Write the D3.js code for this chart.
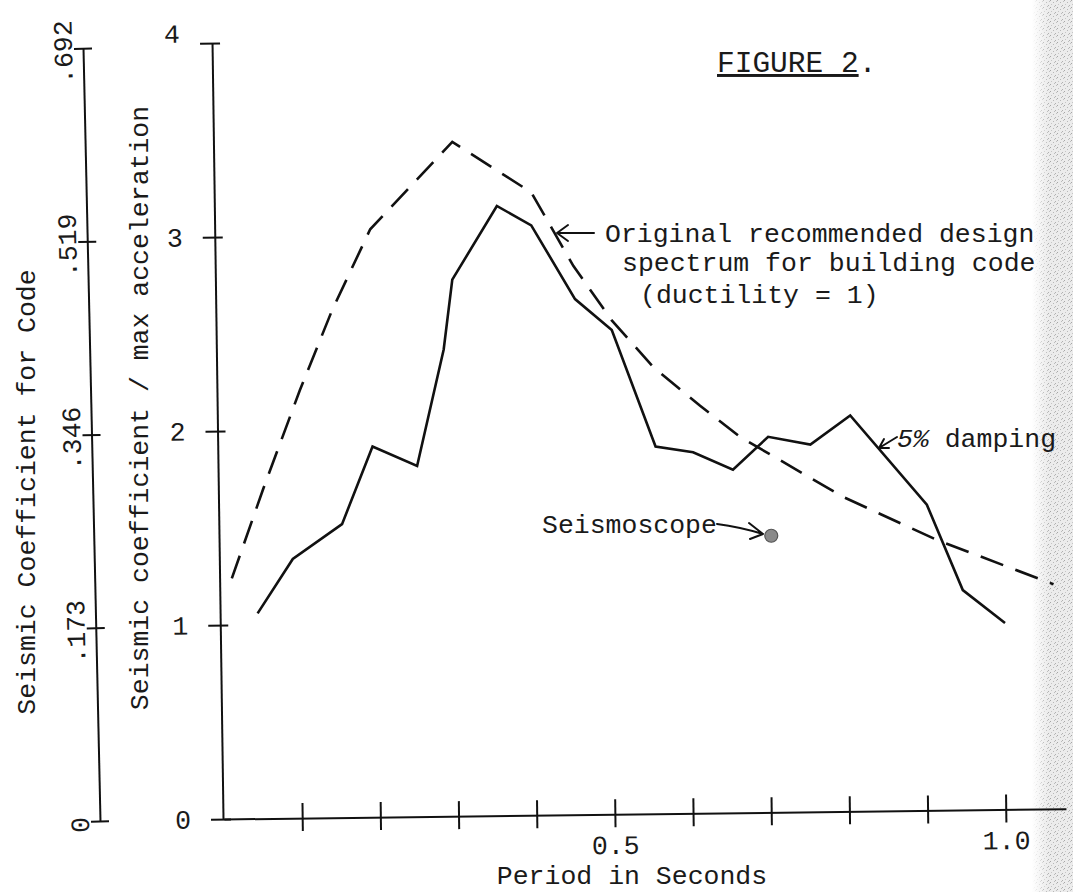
<!DOCTYPE html>
<html>
<head>
<meta charset="utf-8">
<script src="https://cdn.jsdelivr.net/npm/d3@7"></script>
<style>
  body { margin: 0; background: #fff; }
  svg { display: block; }
  text { font-family: "Liberation Mono", "DejaVu Sans Mono", monospace; fill: #1a1a1a; }
</style>
</head>
<body>
<svg id="chart" width="1073" height="892"></svg>
<script>
// 5% damping response spectrum (period in s, coefficient / max accel)
var dampPeriod = [0.043, 0.088, 0.151, 0.190, 0.247, 0.281, 0.292, 0.349, 0.393, 0.449,
                  0.496, 0.552, 0.600, 0.651, 0.696, 0.750, 0.801, 0.899, 0.945, 0.999];
var dampValue  = [1.06, 1.34, 1.52, 1.92, 1.82, 2.42, 2.78, 3.16, 3.06, 2.68,
                  2.52, 1.92, 1.89, 1.80, 1.97, 1.93, 2.08, 1.62, 1.18, 1.01];

// original recommended design spectrum (dashed)
var codePeriod = [0.010, 0.050, 0.097, 0.138, 0.187, 0.292, 0.393, 0.447, 0.496, 0.549,
                  0.609, 0.660, 0.792, 0.911, 1.061];
var codeValue  = [1.24, 1.70, 2.21, 2.62, 3.04, 3.49, 3.23, 2.85, 2.57, 2.33,
                  2.13, 1.97, 1.66, 1.44, 1.21];

// seismoscope reading
var scopePeriod = [0.70];
var scopeValue  = [1.46];

var xTicks  = [0.1, 0.2, 0.3, 0.4, 0.5, 0.6, 0.7, 0.8, 0.9, 1.0];
var xLabels = ["", "", "", "", "0.5", "", "", "", "", "1.0"];
var yTicks  = [0, 1, 2, 3, 4];
var yLabels = ["0", "1", "2", "3", "4"];
var codeTicks  = [0, 0.173, 0.346, 0.519, 0.692];
var codeLabels = ["0", ".173", ".346", ".519", ".692"];

var FS = "26.5px";

var svg = d3.select("#chart");

// grey scanner edge on the right
var defs = svg.append("defs");
var pat = defs.append("pattern").attr("id", "noise")
  .attr("width", 7).attr("height", 7).attr("patternUnits", "userSpaceOnUse");
pat.append("rect").attr("width", 7).attr("height", 7).attr("fill", "#ececec");
[[0,0,"#a6a6a6"],[3,2,"#b8b8b8"],[5,5,"#b0b0b0"],[1,4,"#c6c6c6"],[6,1,"#c0c0c0"],[4,6,"#bcbcbc"]].forEach(function(p){
  pat.append("rect").attr("x", p[0]).attr("y", p[1]).attr("width", 1).attr("height", 1).attr("fill", p[2]);
});
var grad = defs.append("linearGradient").attr("id", "fade")
  .attr("gradientUnits", "userSpaceOnUse").attr("x1", 1032).attr("x2", 1048).attr("y1", 0).attr("y2", 0);
grad.append("stop").attr("offset", 0).attr("stop-color", "#000");
grad.append("stop").attr("offset", 1).attr("stop-color", "#fff");
var mask = defs.append("mask").attr("id", "edge");
mask.append("rect").attr("x", 1028).attr("y", 0).attr("width", 50).attr("height", 892).attr("fill", "url(#fade)");
svg.append("rect").attr("x", 1028).attr("y", 0).attr("width", 50).attr("height", 892)
  .attr("fill", "url(#noise)").attr("mask", "url(#edge)");

var x = d3.scaleLinear().domain([0, 1.077]).range([224, 1066]);
var y = d3.scaleLinear().domain([0, 4]).range([819, 43]);
var yCode = d3.scaleLinear().domain([0, 0.692]).range([821, 48]);

function styleAxis(g) {
  g.selectAll("path, line").attr("stroke", "#111").attr("stroke-width", 2);
  g.selectAll("text").style("font-size", FS).attr("fill", "#1a1a1a");
}

// x axis (hand drawn, rises slightly to the right)
var gx = svg.append("g")
  .attr("transform", "rotate(-0.7,224,819) translate(0,819)")
  .call(d3.axisBottom(x).tickValues(xTicks).tickSizeInner(13).tickSizeOuter(0)
        .tickPadding(8).tickFormat(function(d, i){ return xLabels[i]; }));
gx.selectAll(".tick line").attr("y1", -15);
styleAxis(gx);

// main y axis
var gy = svg.append("g")
  .attr("transform", "rotate(-0.81,223,819) translate(223,0)")
  .call(d3.axisLeft(y).tickValues(yTicks).tickSizeInner(12).tickSizeOuter(0).tickPadding(20)
        .tickFormat(function(d, i){ return yLabels[i]; }));
gy.selectAll(".tick line").attr("x1", 8);
styleAxis(gy);
gy.selectAll(".tick text").filter(function(d){ return d === 4; }).attr("dy", "-0.05em");

// code coefficient axis
var gc = svg.append("g")
  .attr("transform", "rotate(-1.26,100,821) translate(100,0)")
  .call(d3.axisLeft(yCode).tickValues(codeTicks).tickSizeInner(9).tickSizeOuter(0)
        .tickFormat(function(d, i){ return codeLabels[i]; }));
gc.selectAll(".tick line").attr("x1", 9);
gc.selectAll(".tick text")
  .attr("x", 0).attr("dy", 0)
  .attr("text-anchor", "middle")
  .attr("transform", "translate(-11,3) rotate(-90)");
styleAxis(gc);

// axis titles
svg.append("text").attr("transform", "translate(35,492) rotate(-90)")
  .attr("text-anchor", "middle").style("font-size", FS)
  .text("Seismic Coefficient for Code");
svg.append("text").attr("transform", "translate(148,408) rotate(-90)")
  .attr("text-anchor", "middle").style("font-size", FS)
  .text("Seismic coefficient / max acceleration");
svg.append("text").attr("x", 632).attr("y", 884)
  .attr("text-anchor", "middle").style("font-size", FS)
  .text("Period in Seconds");

// data lines
var line = d3.line().x(function(d){ return x(d[0]); }).y(function(d){ return y(d[1]); });

svg.append("path")
  .datum(d3.zip(codePeriod, codeValue))
  .attr("d", line)
  .attr("fill", "none").attr("stroke", "#111").attr("stroke-width", 2.6)
  .attr("stroke-dasharray", "24 13");

svg.append("path")
  .datum(d3.zip(dampPeriod, dampValue))
  .attr("d", line)
  .attr("fill", "none").attr("stroke", "#111").attr("stroke-width", 2.6)
  .attr("stroke-linejoin", "miter");

svg.selectAll(".scope")
  .data(d3.zip(scopePeriod, scopeValue))
  .enter().append("circle")
  .attr("class", "scope")
  .attr("cx", function(d){ return x(d[0]); })
  .attr("cy", function(d){ return y(d[1]); })
  .attr("r", 6.5)
  .attr("fill", "#8a8a8a").attr("stroke", "#555").attr("stroke-width", 1.2);

// annotations
var ann = svg.append("g").style("font-size", FS);
ann.append("text").attr("x", 717).attr("y", 72).style("font-size", "29.5px")
  .call(function(t){
    t.append("tspan").attr("text-decoration", "underline").text("FIGURE 2");
    t.append("tspan").text(".");
  });

ann.append("text").attr("x", 605).attr("y", 242).text("Original recommended design");
ann.append("text").attr("x", 622).attr("y", 271).text("spectrum for building code");
ann.append("text").attr("x", 640).attr("y", 303).text("(ductility = 1)");
ann.append("text").attr("x", 542).attr("y", 533).text("Seismoscope");
ann.append("text").attr("x", 897).attr("y", 447)
  .call(function(t){
    t.append("tspan").style("font-style", "italic").text("5%");
    t.append("tspan").text(" damping");
  });

var arrows = [
  "M594,233 L557,233 M568,225 L557,233 L568,241",
  "M717,524 Q740,527 763,534 M749,523 L763,534 L750,539",
  "M897,437 L879,448 M884,439 L879,448 L889,448"
];
svg.selectAll(".arrow").data(arrows).enter().append("path")
  .attr("class", "arrow")
  .attr("d", function(d){ return d; })
  .attr("fill", "none").attr("stroke", "#111").attr("stroke-width", 2)
  .attr("stroke-linecap", "round").attr("stroke-linejoin", "round");
</script>
</body>
</html>
